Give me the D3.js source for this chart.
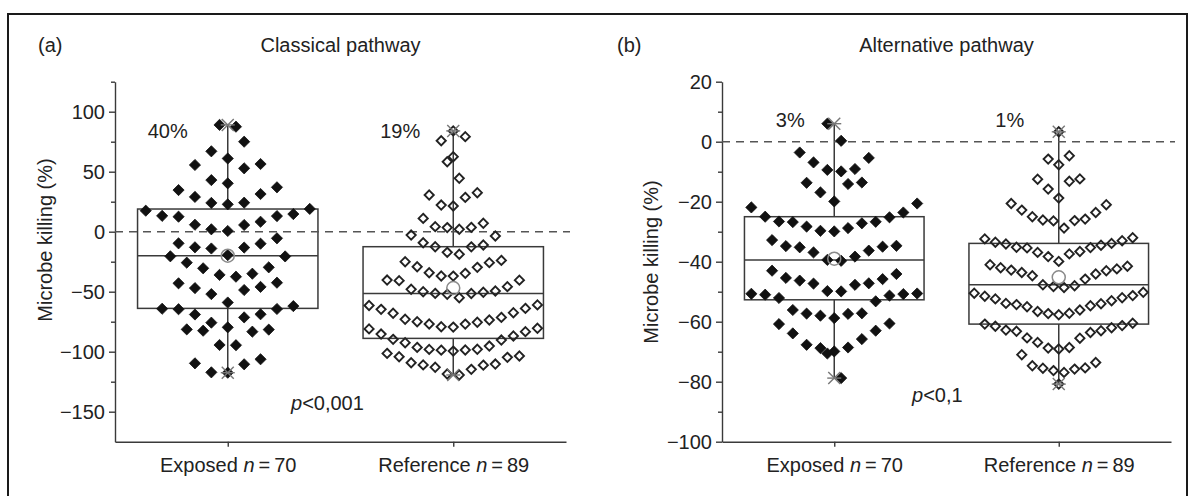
<!DOCTYPE html>
<html><head><meta charset="utf-8">
<script src="https://cdn.jsdelivr.net/npm/d3@7"></script>
<style>
body{margin:0;background:#fff;}
svg{display:block;}
text{font-family:"Liberation Sans",Arial,Helvetica,sans-serif;fill:#222;}
</style>
</head><body>
<svg id="chart" width="1195" height="496"></svg>
<script>
// ---------------- DATA ----------------
const categories = ["Exposed", "Reference"];
const groupSizes = [70, 89];

// (a) Classical pathway – microbe killing (%)
const classicalExposed = [89, 87.5, 75, 67, 61, 55.6, 52.8, 56.4, 43, 40.3,
  34.7, 29, 37, 31.4, 24, 22.8, 24.2, 17.5, 19, 14.7, 13, 13.2, 12.5,
  5.6, 2, 0.6, 5.8, 8.3, -10, -13, -14, -13.2, -9.7, -5.5, -19.5,
  -20.5, -20.6, -25.8, -30.5, -36, -37.5, -35, -29.7,
  -42.5, -43, -46, -47, -48.6, -52, -59,
  -62, -64.2, -64.4, -64.6, -68.8, -69, -71.4, -75.8, -79.7,
  -81.4, -81.6, -82.5, -83.3, -94.4, -94.6,
  -106.3, -109.7, -110.5, -117.2, -117.5];
const classicalReference = [84, 62.5, 75.8, 79.2, 44.5, 58.3,
  21.4, 22.2, 28.6, 30.6, 32.5,
  2, 3.4, 3.6, 4.2, 7, 11.1,
  -18.8, -17.2, -12.5, -12.6, -11.1, -9.2, -3.6, -2.8,
  -36.9, -37, -34.7, -34.2, -29.7, -29.2, -25.8, -25, -23.9,
  -55, -52.2, -51.4, -51.5, -50.5, -50, -49.4, -48, -45.8, -40.3, -40.8, -40.4,
  -79.5, -79.2, -76.9, -77, -75.5, -75, -73.6, -73, -71.4, -68, -67.5, -63.9, -64.7, -61, -61.5,
  -99.5, -98.6, -98.7, -98, -98.1, -96.4, -95.3, -92.5, -90.3, -89.7, -86.9, -85.3, -83.3, -81, -80.5,
  -119.4, -118.6, -114.7, -113, -111, -110.3, -111.2, -109.2, -104.7, -104.2, -103.6, -101.4];
// box statistics [min, q1, median, q3, max, mean]
const classicalExposedStats = [-117.5, -63.9, -20, 18.9, 89, -20];
const classicalReferenceStats = [-119.4, -88.9, -51.4, -12.5, 84, -47];
const classicalPercent = ["40%", "19%"];
const classicalTicks = [100, 50, 0, -50, -100, -150];
const classicalMinorTicks = [125, 75, 25, -25, -75, -125];

// (b) Alternative pathway – microbe killing (%)
const alternativeExposed = [6, 0.3,
  -3.6, -5.4, -6.9, -9.1, -9.4, -9.9,
  -13.6, -13.7, -14.1, -16.9, -19.9,
  -20.6, -21.9, -23.6, -25, -25.2, -26.6, -26.7, -26.8, -27.2, -28.3, -28.8, -29.7, -29.9,
  -32.8, -34.7, -34.8, -35, -35.2, -36.3, -36.9, -38.3, -39.4, -39.7,
  -43, -44.1, -45.4, -45.8, -46.3, -47.2, -47.3, -47.7, -49.8, -49.9,
  -50.6, -50.7, -50.8, -51, -51.3, -52.1, -53.2, -56.1, -57.2, -57.3, -57.4, -58, -58.8,
  -60.6, -60.8, -63, -63.9, -65.8, -67.7, -68.6, -68.8, -69.9,
  -70.6, -78.8];
const alternativeReference = [3.3,
  -4.7, -5.8, -7.7,
  -12.4, -12.5, -13.2, -15.8, -18.8,
  -20.6, -21, -22.8, -23.6, -25, -25.8, -26.1, -26.3, -26.4, -28.8,
  -32, -32.4, -33, -33.5, -33.9, -34.1, -34.5, -35.2, -35.3, -35.4, -36.6, -36.9, -37.4, -38.3, -39.9,
  -41, -41.5, -42, -42.4, -42.8, -43, -43.6, -44.1, -44.7, -45.8, -47.7, -48, -48.3, -48.6,
  -50.2, -50.5, -51.3, -51.5, -52, -52.4, -53, -53.9, -54, -54.3, -54.7, -55, -56.1, -56.6, -57.2, -57.3, -57.7,
  -60.5, -60.8, -61.3, -61.5, -62, -62.8, -63, -63.2, -63.6, -65.4, -65.5, -66.9, -68.6, -68.8, -69.1,
  -71, -73.6, -74.7, -75.4, -75.5, -75.8, -76.3, -76.9,
  -80.8];
const alternativeExposedStats = [-78.8, -52.7, -39.4, -25, 6, -39];
const alternativeReferenceStats = [-80.8, -60.8, -47.7, -33.9, 3.3, -45.2];
const alternativePercent = ["3%", "1%"];
const alternativeTicks = [20, 0, -20, -40, -60, -80, -100];
const alternativeMinorTicks = [10, -10, -30, -50, -70, -90];

// ---------------- DRAWING ----------------
const svg = d3.select("#chart");
const FONT = 20;
const AX = "#3a3a3a";
const fmt = d => d < 0 ? "\u2212" + Math.abs(d) : String(d);

// outer frame
svg.append("rect").attr("x", 8).attr("y", 14).attr("width", 1179).attr("height", 540)
  .attr("fill", "none").attr("stroke", "#1a1a1a").attr("stroke-width", 2);

function swarm(values, binW, bandW) {
  const groups = d3.group(values, v => Math.floor(v / binW));
  const maxN = d3.max(Array.from(groups.values()), g => g.length);
  const step = bandW / maxN;
  const out = [];
  for (const g of groups.values()) {
    const s = g.slice().sort((a, b) => a - b);
    const n = s.length;
    s.forEach((v, k) => {
      let off;
      if (n % 2 === 1) off = k === 0 ? 0 : (k % 2 === 1 ? -(k + 1) / 2 : k / 2);
      else off = (k % 2 === 0 ? 1 : -1) * (Math.floor(k / 2) + 0.5);
      out.push({ v, off: off * step });
    });
  }
  return out;
}

function diamond(r) {
  return `M0,${-r}L${r},0L0,${r}L${-r},0Z`;
}

function drawPanel(cfg) {
  const g = svg.append("g");
  const x = d3.scalePoint().domain(categories).range(cfg.xRange).padding(0.5);
  const y = d3.scaleLinear().domain(cfg.yDomain).range([441.7, 81.7]);
  const bandW = x.step() * 0.8;

  // axes
  const yAxis = d3.axisLeft(y).tickValues(cfg.ticks).tickSize(6).tickPadding(4)
    .tickSizeOuter(0).tickFormat(fmt);
  const ya = g.append("g").attr("transform", `translate(${cfg.xRange[0]},0)`).call(yAxis);
  const yMinor = d3.axisLeft(y).tickValues(cfg.minor).tickSize(4).tickSizeOuter(0).tickFormat("");
  const ym = g.append("g").attr("transform", `translate(${cfg.xRange[0]},0)`).call(yMinor);
  ym.select(".domain").remove();
  const xAxis = d3.axisBottom(x).tickSize(5).tickPadding(11).tickSizeOuter(0);
  const xa = g.append("g").attr("transform", `translate(0,${y(cfg.yDomain[0])})`).call(xAxis);
  [ya, ym, xa].forEach(a => {
    a.selectAll("path,line").attr("stroke", AX).attr("stroke-width", 1.4);
    a.selectAll("text").style("font-size", FONT + "px").attr("fill", "#222")
      .style("font-family", '"Liberation Sans",Arial,sans-serif');
  });
  xa.selectAll(".tick text").each(function (d, i) {
    const t = d3.select(this).text(null);
    t.append("tspan").text(d + " ");
    t.append("tspan").attr("font-style", "italic").text("n");
    t.append("tspan").text("\u2009=\u2009" + groupSizes[i]);
  });

  // boxes (transparent, so the zero line shows through)
  cfg.stats.forEach((s, i) => {
    const cx = x(categories[i]);
    const [mn, q1, md, q3, mx, mean] = s;
    g.append("rect").attr("x", cx - bandW / 2).attr("width", bandW)
      .attr("y", y(q3)).attr("height", y(q1) - y(q3))
      .attr("fill", "none").attr("stroke", AX).attr("stroke-width", 1.5);
    g.append("line").attr("x1", cx - bandW / 2).attr("x2", cx + bandW / 2)
      .attr("y1", y(md)).attr("y2", y(md)).attr("stroke", AX).attr("stroke-width", 1.5);
    g.append("line").attr("x1", cx).attr("x2", cx).attr("y1", y(q1)).attr("y2", y(mn))
      .attr("stroke", AX).attr("stroke-width", 1.5);
    g.append("line").attr("x1", cx).attr("x2", cx).attr("y1", y(mx)).attr("y2", y(q3))
      .attr("stroke", AX).attr("stroke-width", 1.5);
  });

  // zero line
  g.append("line").attr("x1", cfg.xRange[0]).attr("x2", cfg.xRange[1] + 4)
    .attr("y1", y(0)).attr("y2", y(0))
    .attr("stroke", "#555").attr("stroke-width", 1.6).attr("stroke-dasharray", "8,6");

  // points
  cfg.series.forEach((vals, i) => {
    const cx = x(categories[i]);
    const pts = swarm(vals, cfg.binW, bandW);
    const filled = i === 0;
    g.append("g").selectAll("path").data(pts).join("path")
      .attr("transform", d => `translate(${cx + d.off},${y(d.v)})`)
      .attr("d", diamond(filled ? 5.6 : 4.6))
      .attr("fill", filled ? "#111" : "none")
      .attr("stroke", filled ? "#111" : "#222")
      .attr("stroke-width", filled ? 0.8 : 1.9);
  });

  // caps, means, percentages
  cfg.stats.forEach((s, i) => {
    const cx = x(categories[i]);
    const [mn, q1, md, q3, mx, mean] = s;
    [mn, mx].forEach(v => {
      const cy = y(v);
      const cap = g.append("g").attr("transform", `translate(${cx},${cy})`)
        .attr("stroke", "#777").attr("stroke-width", 1.4);
      cap.append("line").attr("x1", -7).attr("x2", 7).attr("y1", 0).attr("y2", 0);
      cap.append("line").attr("x1", -6).attr("x2", 6).attr("y1", -6).attr("y2", 6);
      cap.append("line").attr("x1", -6).attr("x2", 6).attr("y1", 6).attr("y2", -6);
    });
    g.append("circle").attr("cx", cx).attr("cy", y(mean)).attr("r", 6.5)
      .attr("fill", "none").attr("stroke", "#8a8a8a").attr("stroke-width", 1.5);
    g.append("text").attr("x", cx + cfg.pctDx[i]).attr("y", cfg.pctY)
      .attr("text-anchor", "middle").style("font-size", FONT + "px").text(cfg.pct[i]);
  });

  // labels
  g.append("text").attr("x", cfg.letterX).attr("y", 52).style("font-size", FONT + "px").text(cfg.letter);
  g.append("text").attr("x", d3.mean(cfg.xRange)).attr("y", 52).attr("text-anchor", "middle")
    .style("font-size", FONT + "px").text(cfg.title);
  g.append("text").attr("transform", `translate(${cfg.yTitleX},${cfg.yTitleY}) rotate(-90)`)
    .attr("text-anchor", "middle").style("font-size", FONT + "px").text("Microbe killing (%)");
  const p = g.append("text").attr("x", cfg.pX).attr("y", cfg.pY).style("font-size", FONT + "px");
  p.append("tspan").attr("font-style", "italic").text("p");
  p.append("tspan").text(cfg.pText);
}

drawPanel({
  xRange: [115, 566], yDomain: [-175, 125], ticks: classicalTicks, minor: classicalMinorTicks,
  binW: 20, series: [classicalExposed, classicalReference],
  stats: [classicalExposedStats, classicalReferenceStats],
  pct: classicalPercent, pctDx: [-60, -53], pctY: 138,
  letter: "(a)", letterX: 38, title: "Classical pathway",
  yTitleX: 52, yTitleY: 240, pX: 291, pY: 410, pText: "<0,001"
});
drawPanel({
  xRange: [722, 1171], yDomain: [-100, 20], ticks: alternativeTicks, minor: alternativeMinorTicks,
  binW: 10, series: [alternativeExposed, alternativeReference],
  stats: [alternativeExposedStats, alternativeReferenceStats],
  pct: alternativePercent, pctDx: [-44, -49], pctY: 127,
  letter: "(b)", letterX: 617, title: "Alternative pathway",
  yTitleX: 658, yTitleY: 262, pX: 912, pY: 402, pText: "<0,1"
});
</script>
</body></html>
